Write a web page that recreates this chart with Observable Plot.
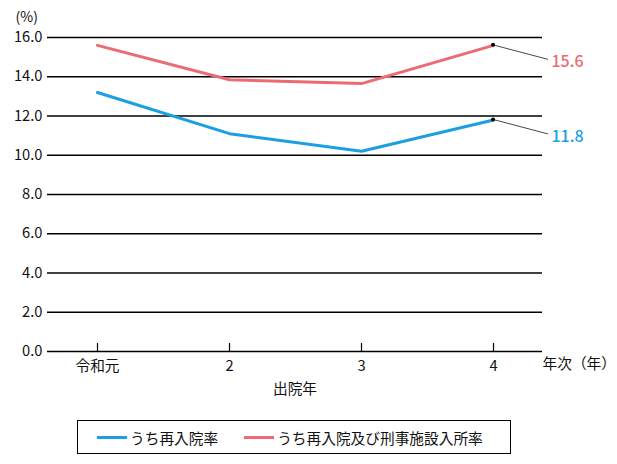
<!DOCTYPE html>
<html>
<head>
<meta charset="utf-8">
<script src="https://cdn.jsdelivr.net/npm/d3@7"></script>
<script src="https://cdn.jsdelivr.net/npm/@observablehq/plot@0.6"></script>
<style>
  body { margin: 0; background: #fff; font-family: "Noto Sans CJK JP", "Noto Sans", sans-serif; }
  #chart { width: 617px; }
  .legend { margin-left: 77px; margin-top: 10px; width: 432px; height: 32px; border: 1.3px solid #000;
    display: flex; align-items: center; font-size: 14.7px; color: #111; box-sizing: content-box; }
  .item { display: flex; align-items: center; }
  .sw { width: 30px; height: 3px; margin-right: 3px; }
</style>
</head>
<body>
<div id="chart"></div>
<script>
const years = ["令和元", "2", "3", "4"];
const seriesNames = ["うち再入院率", "うち再入院及び刑事施設入所率"];
const readmit = [13.2, 11.1, 10.2, 11.8];
const readmitPrison = [15.6, 13.85, 13.65, 15.6];
const colors = ["#1b9fe2", "#ec6a72"];
const yTicks = [0, 2, 4, 6, 8, 10, 12, 14, 16];

const data = [
  ...years.map((y, i) => ({year: y, value: readmit[i], series: seriesNames[0]})),
  ...years.map((y, i) => ({year: y, value: readmitPrison[i], series: seriesNames[1]}))
];
const lastYear = years[years.length - 1];
const ends = data.filter(d => d.year === lastYear);

const leader = (index, scales, channels) => {
  const g = d3.create("svg:g");
  for (const i of index) {
    const x = channels.x[i], y = channels.y[i];
    g.append("line").attr("x1", x).attr("y1", y).attr("x2", x + 55).attr("y2", y + 14.5)
      .attr("stroke", "#333").attr("stroke-width", 0.9);
    g.append("circle").attr("cx", x).attr("cy", y).attr("r", 2).attr("fill", "#000");
  }
  return g.node();
};

const chart = Plot.plot({
  width: 617,
  height: 410,
  marginTop: 37,
  marginBottom: 59,
  marginLeft: 47,
  marginRight: 75,
  style: {fontFamily: "'Noto Sans CJK JP', 'Noto Sans', sans-serif", fontSize: "14.7px", color: "#111", background: "#fff"},
  x: {type: "point", domain: years, padding: 0.375},
  y: {domain: [0, 16]},
  color: {domain: seriesNames, range: colors},
  marks: [
    Plot.ruleY(yTicks, {stroke: "#000", strokeWidth: 1.3}),
    Plot.ruleX(years, {x: d => d, y1: 0, y2: 0, insetTop: -8, stroke: "#000", strokeWidth: 1.2}),
    Plot.axisY(yTicks, {tickSize: 0, tickPadding: 5, tickFormat: d => d.toFixed(1), fontSize: 14.7, label: null}),
    Plot.axisX({tickSize: 0, tickPadding: 9, fontSize: 14.7, label: null}),
    Plot.text(["(%)"], {frameAnchor: "top-left", dx: -32, dy: -25, textAnchor: "start", fontSize: 14}),
    Plot.text(["年次（年）"], {frameAnchor: "bottom-right", dx: 0, dy: 17, textAnchor: "start", fontSize: 14.7}),
    Plot.text(["出院年"], {frameAnchor: "bottom", dy: 42, fontSize: 14.7}),
    Plot.lineY(data, {x: "year", y: "value", stroke: "series", strokeWidth: 3}),
    Plot.dot(ends, {x: "year", y: "value", render: leader}),
    Plot.text(ends, {x: "year", y: "value", text: d => d.value.toFixed(1), fill: "series",
      dx: 58, dy: 17, textAnchor: "start", fontSize: 16, fontWeight: 500})
  ]
});
document.getElementById("chart").appendChild(chart);

const legend = document.createElement("div");
legend.className = "legend";
seriesNames.forEach((name, i) => {
  const it = document.createElement("div");
  it.className = "item";
  it.style.marginLeft = i === 0 ? "19px" : "26px";
  const sw = document.createElement("span");
  sw.className = "sw";
  sw.style.background = colors[i];
  const t = document.createElement("span");
  t.textContent = name;
  it.appendChild(sw);
  it.appendChild(t);
  legend.appendChild(it);
});
document.body.appendChild(legend);
</script>
</body>
</html>
